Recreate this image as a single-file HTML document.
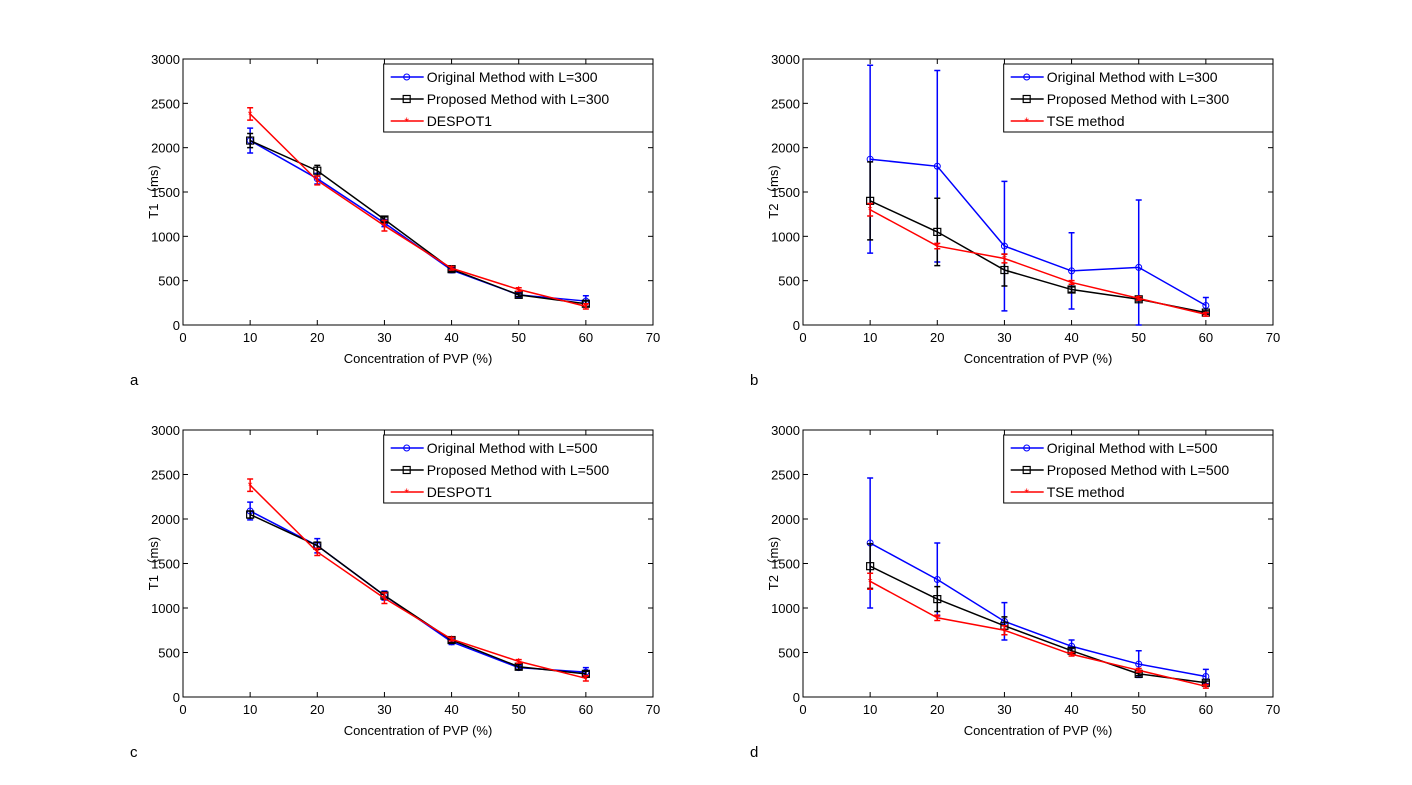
<!DOCTYPE html>
<html><head><meta charset="utf-8"><style>
body{margin:0;background:#fff;}
svg{display:block;font-family:"Liberation Sans","Noto Sans CJK SC",sans-serif;}
</style></head><body>
<svg id="fig" width="1412" height="785" viewBox="0 0 1412 785" xmlns="http://www.w3.org/2000/svg"></svg>
<script>
const xCats=[10,20,30,40,50,60];
const xTicks=[0,10,20,30,40,50,60,70];
const yTicks=[0,500,1000,1500,2000,2500,3000];
// panel a
const aBlue=[2080,1650,1150,620,340,270], aBlueErr=[140,60,40,30,25,60];
const aBlack=[2080,1740,1190,630,340,240], aBlackErr=[80,60,30,25,20,30];
const aRed=[2380,1630,1120,640,400,210], aRedErr=[70,50,60,20,20,30];
// panel b
const bBlue=[1870,1790,890,610,650,220], bBlueErr=[1060,1080,730,430,760,90];
const bBlack=[1400,1050,620,400,290,140], bBlackErr=[440,380,180,30,20,20];
const bRed=[1300,890,750,480,300,120], bRedErr=[70,30,50,20,20,20];
// panel c
const cBlue=[2090,1700,1140,620,330,280], cBlueErr=[100,80,50,30,25,50];
const cBlack=[2050,1700,1140,640,340,260], cBlackErr=[40,40,40,30,30,30];
const cRed=[2380,1630,1110,650,400,210], cRedErr=[70,40,60,20,20,30];
// panel d
const dBlue=[1730,1320,850,570,370,230], dBlueErr=[730,410,210,70,150,80];
const dBlack=[1470,1100,800,520,260,160], dBlackErr=[250,140,100,30,20,20];
const dRed=[1300,890,750,480,300,120], dRedErr=[90,30,50,20,20,20];

const NS="http://www.w3.org/2000/svg";
const svg=document.getElementById('fig');
function mk(tag,attrs,parent){const e=document.createElementNS(NS,tag);for(const k in attrs)e.setAttribute(k,attrs[k]);(parent||svg).appendChild(e);return e;}

function panel(id,L,T,R,B,ylab,letter,series,legendLabels){
  const g=mk('g',{});
  
  
  const sx=v=>L+(v/70)*(R-L), sy=v=>B-(v/3000)*(B-T);
  const frame=mk('rect',{x:L,y:T,width:R-L,height:B-T,fill:'#fff',stroke:'#000','stroke-width':1},g);
  
  
  xTicks.forEach(v=>{const x=sx(v);
    mk('line',{x1:x,y1:B,x2:x,y2:B-5,stroke:'#000'},g);mk('line',{x1:x,y1:T,x2:x,y2:T+5,stroke:'#000'},g);
    const t=mk('text',{x:x,y:B+17,'font-size':13,'text-anchor':'middle'},g);t.textContent=v;
    
    });
  yTicks.forEach(v=>{const y=sy(v);
    mk('line',{x1:L,y1:y,x2:L+5,y2:y,stroke:'#000'},g);mk('line',{x1:R,y1:y,x2:R-5,y2:y,stroke:'#000'},g);
    const t=mk('text',{x:L-3,y:y+5,'font-size':13,'text-anchor':'end'},g);t.textContent=v;
    
    });
  const xl=mk('text',{x:(L+R)/2,y:B+38,'font-size':13,'text-anchor':'middle'},g);xl.textContent='Concentration of PVP (%)';
  
  
  const yc=(T+B)/2;
  const yl=mk('text',{x:L-25,y:yc,'font-size':13,'text-anchor':'middle',transform:`rotate(-90 ${L-25} ${yc})`},g);yl.textContent=ylab;
  
  
  const lt=mk('text',{x:L-53,y:B+60,'font-size':15},g);lt.textContent=letter;
  
  
  series.forEach(s=>{
    const pts=xCats.map((c,i)=>sx(c)+','+sy(s.v[i])).join(' ');
    const pl=mk('polyline',{points:pts,fill:'none',stroke:s.c,'stroke-width':1.5},g);
    
    
    xCats.forEach((c,i)=>{const x=sx(c),y1=sy(Math.max(0,s.v[i]-s.e[i])),y2=sy(s.v[i]+s.e[i]);
      const eb=mk('path',{d:`M${x},${y1}V${y2}M${x-3},${y1}H${x+3}M${x-3},${y2}H${x+3}`,stroke:s.c,'stroke-width':1.5,fill:'none'},g);
      
      
      marker(g,s.m,x,sy(s.v[i]),s.c);});
  });
  // legend
  const lx=L+(R-L)*0.427, ly=T+5, lw=R-lx, lh=68;
  const lg=mk('g',{},g);
  
  
  mk('rect',{x:lx,y:ly,width:lw,height:lh,fill:'#fff',stroke:'#000'},lg);
  series.forEach((s,i)=>{const yy=ly+13+i*22;
    mk('line',{x1:lx+7,y1:yy,x2:lx+40,y2:yy,stroke:s.c,'stroke-width':1.5},lg);
    marker(lg,s.m,lx+23,yy,s.c);
    const t=mk('text',{x:lx+43,y:yy+5,'font-size':14},lg);t.textContent=legendLabels[i];
    
    });
}
function marker(g,m,x,y,c){
  if(m==='o')mk('circle',{cx:x,cy:y,r:3,fill:'none',stroke:c},g);
  else if(m==='s')mk('rect',{x:x-3.5,y:y-3.5,width:7,height:7,fill:'none',stroke:c,'stroke-width':1.2},g);
  else{const t=mk('text',{x:x,y:y+5,'font-size':12,'text-anchor':'middle',fill:c},g);t.textContent='*';}
}
const B='#0000ff',K='#000',Rd='#ff0000';
panel('a',183,59,653,325,'T1 （ms)','a',
 [{n:'original',v:aBlue,e:aBlueErr,c:B,m:'o'},{n:'proposed',v:aBlack,e:aBlackErr,c:K,m:'s'},{n:'despot1',v:aRed,e:aRedErr,c:Rd,m:'*'}],
 ['Original Method with L=300','Proposed Method with L=300','DESPOT1']);
panel('b',803,59,1273,325,'T2 （ms)','b',
 [{n:'original',v:bBlue,e:bBlueErr,c:B,m:'o'},{n:'proposed',v:bBlack,e:bBlackErr,c:K,m:'s'},{n:'tse',v:bRed,e:bRedErr,c:Rd,m:'*'}],
 ['Original Method with L=300','Proposed Method with L=300','TSE method']);
panel('c',183,430,653,697,'T1 （ms)','c',
 [{n:'original',v:cBlue,e:cBlueErr,c:B,m:'o'},{n:'proposed',v:cBlack,e:cBlackErr,c:K,m:'s'},{n:'despot1',v:cRed,e:cRedErr,c:Rd,m:'*'}],
 ['Original Method with L=500','Proposed Method with L=500','DESPOT1']);
panel('d',803,430,1273,697,'T2 （ms)','d',
 [{n:'original',v:dBlue,e:dBlueErr,c:B,m:'o'},{n:'proposed',v:dBlack,e:dBlackErr,c:K,m:'s'},{n:'tse',v:dRed,e:dRedErr,c:Rd,m:'*'}],
 ['Original Method with L=500','Proposed Method with L=500','TSE method']);
</script>
</body></html>
